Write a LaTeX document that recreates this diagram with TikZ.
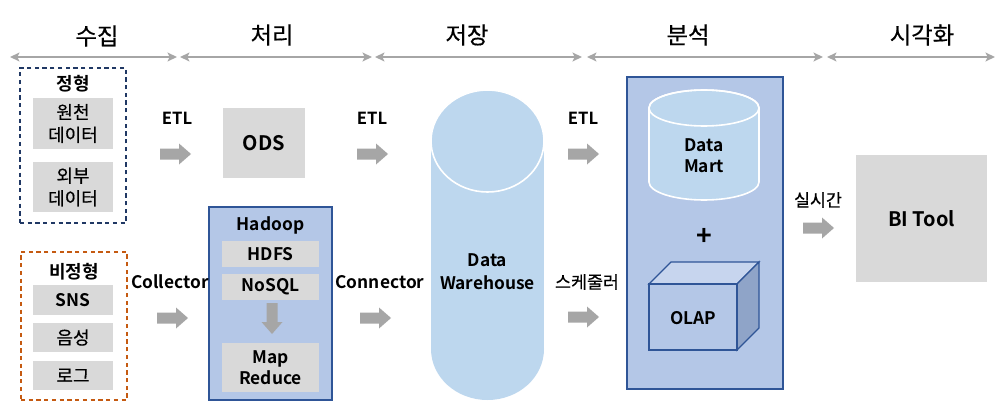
\documentclass[tikz,border=0pt]{standalone}
\usepackage{fontspec}
\setmainfont{Noto Sans CJK KR}[BoldFont={Noto Sans CJK KR Bold}]
\newfontfamily\krmid{Noto Sans CJK KR}[FakeBold=0.45]
\usetikzlibrary{arrows.meta}
\definecolor{grayarrow}{HTML}{A6A6A6}
\definecolor{boxgray}{HTML}{D9D9D9}
\definecolor{navy}{HTML}{2F5597}
\definecolor{dashnavy}{HTML}{203864}
\definecolor{dashorange}{HTML}{C55A11}
\definecolor{hadoopfill}{HTML}{B4C7E7}
\definecolor{cylfill}{HTML}{BDD7EE}
\definecolor{cubetop}{HTML}{C7D5EE}
\definecolor{cubeside}{HTML}{8FA4C8}
\tikzset{
  phase/.style={draw=grayarrow, line width=2pt, {Stealth[length=7pt,width=6.5pt,inset=1.5pt]}-{Stealth[length=7pt,width=6.5pt,inset=1.5pt]}},
  header/.style={font=\krmid\fontsize{17.5}{19}\selectfont},
  lbl/.style={font=\bfseries\fontsize{12.5}{15}\selectfont, inner sep=0pt},
  krlbl/.style={font=\krmid\fontsize{13}{15}\selectfont, inner sep=0pt},
  graybox/.style={fill=boxgray, draw=none, align=center, inner sep=0pt, font=\krmid\fontsize{13.5}{17}\selectfont},
  techbox/.style={fill=boxgray, draw=none, align=center, inner sep=0pt, font=\bfseries\fontsize{13}{16}\selectfont},
  dashbox/.style={draw, line width=1.1pt, dash pattern=on 3.2pt off 2.6pt, fill=none, inner sep=0pt},
  bluebox/.style={fill=hadoopfill, draw=navy, line width=1pt, inner sep=0pt},
  blockarrow/.pic={\fill[grayarrow] (0,-5.5) -- (19,-5.5) -- (19,-10.5) -- (31,0) -- (19,10.5) -- (19,5.5) -- (0,5.5) -- cycle;}
}
\begin{document}
\begin{tikzpicture}[x=0.75pt,y=-0.75pt]
\useasboundingbox (0,0) rectangle (1000,410);
\fill[white] (0,0) rectangle (1000,410);

% phase header
\coordinate (h0) at (10,57);
\coordinate (h1a) at (177,57);
\coordinate (h1b) at (180,57);
\coordinate (h2a) at (372,57);
\coordinate (h2b) at (375,57);
\coordinate (h3a) at (582,57);
\coordinate (h3b) at (587,57);
\coordinate (h4a) at (823,57);
\coordinate (h4b) at (827,57);
\coordinate (h5) at (995,57);
\draw[phase] (h0) -- (h1a);
\draw[phase] (h1b) -- (h2a);
\draw[phase] (h2b) -- (h3a);
\draw[phase] (h3b) -- (h4a);
\draw[phase] (h4b) -- (h5);
\node[header] (p1) at (97,36) {수집};
\node[header] (p2) at (272,35) {처리};
\node[header] (p3) at (467,35) {저장};
\node[header] (p4) at (688,35) {분석};
\node[header] (p5) at (922,35) {시각화};

% structured sources
\node[dashbox, draw=dashnavy, minimum width=79.5pt, minimum height=116.25pt] (struct) at (73,145.5) {};
\node[krlbl, font=\bfseries\fontsize{13.5}{15}\selectfont] (structlbl) at (73,84) {정형};
\node[graybox, minimum width=60pt, minimum height=38.25pt] (src1) at (73,123.5) {원천\\데이터};
\node[graybox, minimum width=60pt, minimum height=37.5pt] (src2) at (73,187) {외부\\데이터};

% unstructured sources
\node[dashbox, draw=dashorange, minimum width=79.5pt, minimum height=111pt] (unstruct) at (74,326) {};
\node[krlbl, font=\bfseries\fontsize{13.5}{15}\selectfont] (unstructlbl) at (74,272) {비정형};
\node[techbox, minimum width=60pt, minimum height=22.5pt] (sns) at (73,300) {SNS};
\node[graybox, minimum width=60pt, minimum height=21.75pt] (voice) at (73,337.5) {음성};
\node[graybox, minimum width=60pt, minimum height=21.75pt] (log) at (73,375.5) {로그};

% ODS
\node[techbox, font=\bfseries\fontsize{15}{18}\selectfont, minimum width=61.5pt, minimum height=52.5pt] (ods) at (264,143) {ODS};

% Hadoop
\node[bluebox, minimum width=92.25pt, minimum height=144.75pt] (hadoop) at (270.5,303.5) {};
\node[lbl, font=\bfseries\fontsize{13}{15}\selectfont] (hadooplbl) at (270.5,225) {Hadoop};
\node[techbox, minimum width=72.75pt, minimum height=19.5pt] (hdfs) at (270.5,254) {HDFS};
\node[techbox, minimum width=72.75pt, minimum height=19.5pt] (nosql) at (270.5,287) {NoSQL};
\node[techbox, minimum width=72.75pt, minimum height=36.75pt] (mapred) at (270.5,367.5) {Map\\Reduce};
\pic[rotate=-90] at (272,303) {blockarrow};

% flow labels and arrows
\node[lbl] (etl1) at (177,118) {ETL};
\node[lbl] (etl2) at (372,118) {ETL};
\node[lbl] (etl3) at (583,118) {ETL};
\node[lbl, font=\bfseries\fontsize{13}{15}\selectfont] (coll) at (170,282) {Collector};
\node[lbl, font=\bfseries\fontsize{13}{15}\selectfont] (conn) at (380,282) {Connector};
\node[krlbl] (sched) at (587,282) {스케줄러};
\node[krlbl] (rt) at (818,200) {실시간};
\pic at (160,154) {blockarrow};
\pic at (357,154) {blockarrow};
\pic at (568,154) {blockarrow};
\pic at (157,318) {blockarrow};
\pic at (360,318) {blockarrow};
\pic at (568,317) {blockarrow};
\pic at (803,228) {blockarrow};

% Data Warehouse cylinder
\fill[cylfill] (431,141) rectangle (544,349);
\fill[cylfill] (487.5,349) ellipse [x radius=56.5, y radius=51];
\filldraw[fill=cylfill, draw=white, line width=1.2pt] (487.5,141) ellipse [x radius=56.5, y radius=51];
\node[lbl, font=\bfseries\fontsize{13}{15}\selectfont, align=center] (dw) at (487.5,272) {Data\\[2pt]Warehouse};

% Analysis box
\node[bluebox, minimum width=117pt, minimum height=234pt] (analysis) at (705,233) {};
\filldraw[fill=cylfill, draw=white, line width=1.2pt] (649,108) -- (649,182) arc[start angle=180, end angle=0, x radius=55, y radius=18] -- (759,108) arc[start angle=0, end angle=-180, x radius=55, y radius=18] -- cycle;
\draw[white, line width=1.2pt] (704,108) ellipse [x radius=55, y radius=18];
\node[lbl, font=\bfseries\fontsize{13}{15}\selectfont, align=center] (dm) at (704,156) {Data\\[1pt]Mart};
\node[font=\bfseries\fontsize{20}{20}\selectfont, inner sep=0pt] (plus) at (704,237) {+};
% OLAP cube
\filldraw[fill=cubetop, draw=navy, line width=1pt] (649,284) -- (671,262) -- (759,262) -- (737,284) -- cycle;
\filldraw[fill=cubeside, draw=navy, line width=1pt] (737,284) -- (759,262) -- (759,328) -- (737,350) -- cycle;
\node[bluebox, minimum width=66pt, minimum height=49.5pt] (cube) at (693,317) {};
\node[lbl, font=\bfseries\fontsize{13}{15}\selectfont] (olap) at (693,318) {OLAP};

% BI Tool
\node[techbox, font=\bfseries\fontsize{15}{18}\selectfont, minimum width=98.25pt, minimum height=95.25pt] (bi) at (921.5,218.5) {BI Tool};
\end{tikzpicture}
\end{document}
